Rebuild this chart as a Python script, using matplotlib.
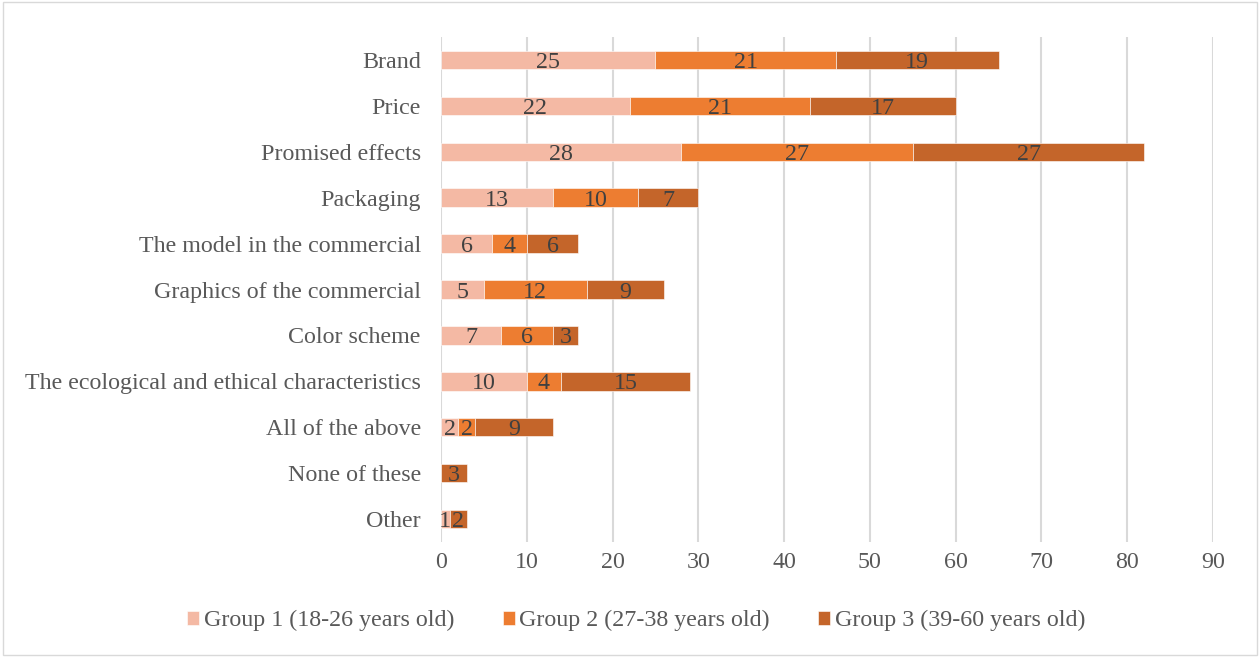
import matplotlib.pyplot as plt
import numpy as np

CATEGORIES = [
    "Brand",
    "Price",
    "Promised effects",
    "Packaging",
    "The model in the commercial",
    "Graphics of the commercial",
    "Color scheme",
    "The ecological and ethical characteristics",
    "All of the above",
    "None of these",
    "Other",
]
GROUP1 = [25, 22, 28, 13, 6, 5, 7, 10, 2, 0, 1]
GROUP2 = [21, 21, 27, 10, 4, 12, 6, 4, 2, 0, 0]
GROUP3 = [19, 17, 27, 7, 6, 9, 3, 15, 9, 3, 2]
SERIES_NAMES = [
    "Group 1 (18-26 years old)",
    "Group 2 (27-38 years old)",
    "Group 3 (39-60 years old)",
]
COLORS = ["#F4B9A4", "#ED7D31", "#C4652A"]
X_TICKS = list(range(0, 100, 10))

FS = 17.3


def main():
    plt.rcParams["font.family"] = ["Liberation Serif", "DejaVu Serif"]

    fig = plt.figure(figsize=(12.6, 6.57), dpi=100)
    ax = fig.add_axes([0.35, 0.175, 0.6127, 0.7687])

    y = np.arange(len(CATEGORIES))
    left = np.zeros(len(CATEGORIES))
    for vals, name, color in zip([GROUP1, GROUP2, GROUP3], SERIES_NAMES, COLORS):
        vals = np.array(vals, dtype=float)
        bars = ax.barh(y, vals, left=left, height=0.4, color=color,
                       edgecolor="white", linewidth=0.4, label=name, zorder=3)
        for b, v in zip(bars, vals):
            if v > 0:
                ax.text(b.get_x() + b.get_width() / 2, b.get_y() + b.get_height() / 2,
                        f"{int(v)}", ha="center", va="center_baseline",
                        fontsize=FS, color="#404040", zorder=4)
        left += vals

    ax.set_xlim(0, 90)
    ax.set_ylim(len(CATEGORIES) - 0.5, -0.5)
    ax.set_xticks(X_TICKS)
    ax.set_yticks(y)
    ax.set_yticklabels(CATEGORIES)
    ax.tick_params(axis="both", length=0, labelsize=FS, colors="#595959")
    ax.tick_params(axis="y", pad=14.5)
    ax.tick_params(axis="x", pad=7)
    for s in ax.spines.values():
        s.set_visible(False)
    ax.grid(axis="x", color="#D9D9D9", linewidth=1.5, zorder=0)
    ax.set_axisbelow(True)

    fig.legend(loc="center", bbox_to_anchor=(0.505, 0.055), ncol=3, frameon=False,
               fontsize=FS, handlelength=0.5, handleheight=0.5,
               handletextpad=0.2, columnspacing=2.0, labelcolor="#595959")

    fig.patches.append(plt.Rectangle((0.002, 0.003), 0.996, 0.994, transform=fig.transFigure,
                                     fill=False, edgecolor="#D9D9D9", linewidth=1))

    fig.savefig("out.png", dpi=100)


if __name__ == "__main__":
    main()
